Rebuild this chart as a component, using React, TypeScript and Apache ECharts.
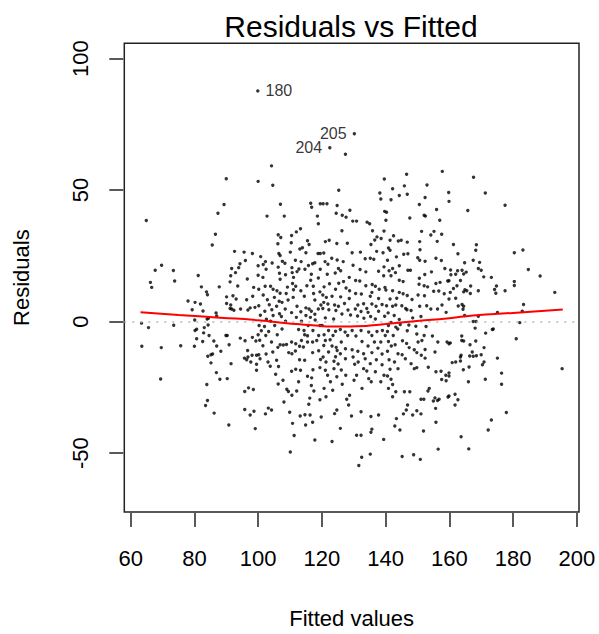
import React, { useEffect, useRef } from "react";
import * as echarts from "echarts";

// Tick labels
const fittedTicks = [60, 80, 100, 120, 140, 160, 180, 200];
const residTicks = [-50, 0, 50, 100];

const pointsA = [
  [90.0,54.3],[89.3,44.5],[87.4,41.2],[64.9,38.4],[86.6,33.2],[85.6,29.1],[92.6,26.7],[95.6,26.4],[98.2,25.9],[96.0,23.2],[69.7,21.4],[67.7,19.5],[73.4,19.4],[94.3,22.0],[93.9,20.5],[91.7,20.2],[92.9,18.6],[91.4,17.4],[81.2,17.5],[73.8,15.4],[66.2,14.9],[66.6,13.0],[91.2,15.1],[96.6,16.2],[93.6,13.5],[87.8,13.2],[82.2,13.2],[98.6,13.0],[83.8,11.3],[84.1,10.2],[90.1,9.4],[92.1,9.8],[93.1,8.6],[96.4,8.3],[98.3,9.6],[78.0,7.8],[80.2,7.3],[81.9,6.7],[90.1,6.9],[91.4,6.3],[91.7,4.8],[91.2,5.0],[92.4,4.3],[79.3,4.5],[82.7,4.0],[94.5,4.8],[96.8,4.4],[97.5,5.2],[99.0,5.4],[86.8,3.3],[87.0,2.1],[84.4,1.3],[84.0,1.0],[80.1,0.6],[63.4,-0.6],[65.6,-2.3],[73.5,-1.4],[84.3,-1.3],[83.1,-2.3],[80.7,-2.9],[80.2,-3.4],[82.9,-4.3],[84.6,-5.3],[89.9,-5.3],[90.3,-5.3],[80.7,-6.5],[94.4,-6.3],[95.9,-7.3],[98.2,-6.0],[99.3,-7.4],[82.6,-7.6],[86.1,-7.4],[90.9,-8.8],[87.0,-9.3],[63.5,-9.4],[69.6,-9.9],[75.7,-9.2],[80.0,-9.4],[96.7,-11.0],[88.3,-11.3],[85.7,-12.3],[85.2,-12.6],[84.2,-13.2],[98.1,-12.8],[96.8,-13.5],[95.7,-13.9],[96.4,-14.5],[99.5,-12.8],[91.5,-16.0],[85.2,-15.7],[97.7,-15.4],[99.5,-16.2],[99.5,-18.5],[86.9,-19.4],[88.0,-21.9],[90.3,-21.7],[69.4,-21.8],[83.9,-23.9],[97.0,-25.2],[98.5,-25.8],[95.8,-26.6],[84.1,-30.0],[83.5,-31.9],[95.8,-33.4],[98.7,-34.1],[86.2,-34.8],[97.5,-35.5],[90.8,-39.3],[99.1,-40.7]
];

const pointsB = [
  [104.2,59.2],[100.0,53.3],[104.6,51.8],[107.0,44.6],[116.5,45.0],[116.8,43.5],[119.5,44.8],[102.8,40.1],[108.2,40.1],[118.6,40.1],[118.9,37.2],[113.3,35.3],[112.0,34.1],[110.5,32.7],[106.3,33.0],[107.1,32.0],[115.5,30.7],[116.0,29.3],[106.2,29.6],[110.4,30.0],[113.9,28.1],[113.1,27.6],[115.0,26.2],[110.1,26.4],[118.8,25.9],[119.5,25.9],[106.5,25.9],[106.9,25.1],[100.8,24.7],[111.7,23.3],[107.6,22.9],[113.5,22.8],[104.4,22.3],[102.3,22.8],[101.6,21.7],[117.8,22.4],[108.4,22.2],[115.8,21.3],[117.1,22.0],[106.3,20.7],[100.0,21.2],[110.6,20.5],[112.8,20.0],[114.7,19.9],[119.5,19.9],[102.5,19.9],[112.2,19.0],[110.7,18.6],[108.6,17.8],[106.7,18.4],[116.7,18.0],[100.0,17.6],[101.5,16.8],[106.9,16.1],[111.1,16.8],[116.5,15.7],[118.9,16.6],[110.8,14.5],[102.2,13.4],[103.9,13.4],[109.2,13.1],[111.8,13.4],[115.3,13.6],[117.3,13.4],[100.2,12.3],[104.7,12.3],[105.9,11.7],[111.1,12.1],[113.4,11.7],[101.6,10.1],[106.9,10.8],[108.8,10.7],[117.4,10.7],[119.4,11.3],[105.1,9.2],[111.0,9.2],[114.5,9.6],[102.9,8.3],[106.6,7.7],[107.5,7.3],[109.4,8.2],[117.8,8.2],[103.5,6.4],[100.2,6.0],[105.8,5.8],[112.2,5.8],[115.0,5.2],[116.0,4.8],[119.7,6.3],[118.9,4.8],[108.5,4.8],[104.3,4.5],[102.1,3.9],[113.4,3.7],[116.7,3.9],[110.5,3.4],[106.7,3.0],[117.8,2.8],[100.7,2.4],[104.7,2.3],[115.0,2.3],[107.3,1.9],[112.0,1.6],[116.4,1.6],[102.6,0.9],[103.9,0.1],[108.6,0.1],[113.6,0.1],[117.9,0.6],[100.3,-1.5],[102.0,-1.9],[105.2,-1.5],[115.7,-1.5],[119.4,-1.5],[101.0,-3.5],[103.3,-3.8],[107.5,-2.8],[112.7,-3.0],[114.4,-3.4],[117.2,-3.4],[100.0,-5.0],[102.4,-5.3],[106.0,-5.0],[114.6,-5.0],[115.5,-5.4],[119.0,-5.3],[100.5,-7.1],[104.2,-7.8],[106.9,-8.8],[107.9,-8.9],[108.9,-8.7],[110.5,-7.8],[111.8,-8.4],[113.6,-7.2],[115.5,-7.8],[117.1,-7.8],[118.4,-7.2],[101.5,-9.2],[106.2,-9.8],[113.0,-9.4],[114.2,-9.7],[100.2,-12.6],[102.5,-12.3],[104.6,-11.6],[109.6,-11.8],[110.6,-12.2],[111.7,-11.2],[117.1,-11.8],[119.0,-11.1],[100.6,-14.1],[103.1,-15.4],[105.8,-14.7],[113.0,-14.5],[114.6,-14.7],[119.6,-14.4],[103.8,-17.0],[106.4,-17.1],[110.5,-18.9],[111.8,-18.1],[113.3,-18.5],[117.2,-18.3],[119.4,-17.5],[105.5,-20.0],[115.5,-20.8],[116.8,-21.4],[107.8,-22.3],[112.7,-22.9],[106.3,-23.7],[109.0,-25.7],[109.5,-26.6],[112.1,-26.4],[116.7,-24.3],[117.5,-26.4],[110.6,-28.0],[116.2,-29.1],[108.1,-30.6],[119.4,-29.7],[115.9,-31.4],[103.2,-32.9],[104.2,-33.6],[102.3,-35.1],[109.9,-34.5],[113.2,-35.9],[114.7,-35.4],[116.3,-35.5],[119.8,-36.3],[110.8,-38.7],[114.9,-39.3],[117.1,-38.3],[111.3,-43.3],[117.8,-45.0],[110.1,-49.6]
];

const pointsC = [
  [127.4,63.6],[139.6,54.2],[125.3,49.9],[138.2,48.9],[138.5,46.6],[121.6,44.8],[120.4,44.8],[124.8,44.1],[139.7,41.9],[124.5,41.2],[126.4,40.4],[127.6,39.7],[128.8,42.3],[129.7,38.2],[130.9,38.2],[134.2,37.8],[135.0,37.2],[126.3,34.5],[139.5,34.4],[135.9,34.5],[137.3,32.2],[138.6,31.6],[136.6,31.0],[135.4,29.3],[121.1,30.4],[122.3,30.9],[124.7,29.7],[128.0,29.8],[132.1,26.4],[120.6,26.1],[129.5,26.2],[137.2,26.7],[139.2,26.2],[133.6,23.9],[135.2,24.1],[136.3,23.7],[123.1,24.1],[124.8,23.4],[126.7,22.8],[121.0,22.8],[121.9,21.8],[129.8,21.4],[132.0,19.8],[133.8,18.9],[125.2,20.2],[125.9,19.3],[124.2,18.5],[137.8,19.1],[139.5,20.8],[128.6,16.8],[121.7,18.0],[130.6,15.6],[131.9,15.4],[139.4,17.4],[126.8,15.2],[125.3,14.6],[122.4,14.4],[135.8,14.1],[133.8,13.6],[136.8,13.4],[138.0,12.3],[139.8,13.0],[120.7,13.2],[124.3,12.3],[127.6,12.8],[128.7,11.7],[130.6,10.7],[132.4,10.5],[135.7,11.1],[120.3,10.1],[121.4,9.2],[123.2,9.6],[125.9,9.4],[128.6,8.8],[135.2,9.6],[137.8,8.8],[120.6,7.3],[121.9,6.7],[124.0,6.3],[125.2,5.8],[127.1,6.9],[131.3,6.3],[133.1,6.8],[134.1,5.0],[135.7,6.7],[137.0,5.8],[138.9,6.5],[120.3,5.0],[122.2,4.5],[124.4,4.2],[128.2,4.4],[130.5,4.8],[132.3,3.8],[134.5,3.5],[137.8,3.9],[126.3,2.9],[129.0,2.5],[131.2,2.1],[135.3,1.9],[139.7,2.0],[121.1,1.4],[123.7,1.0],[133.2,1.3],[136.8,1.0],[120.1,-1.5],[122.1,-3.4],[124.3,-3.7],[125.8,-3.0],[127.3,-4.0],[129.5,-3.4],[132.3,-3.4],[134.7,-4.0],[137.3,-3.8],[139.0,-3.4],[120.7,-5.0],[123.5,-5.3],[128.1,-5.3],[130.7,-5.5],[135.7,-5.3],[139.9,-5.3],[121.1,-7.2],[122.6,-6.9],[126.1,-7.8],[132.6,-7.6],[136.5,-7.8],[138.5,-7.8],[120.6,-9.1],[123.2,-9.3],[124.5,-9.8],[127.4,-10.3],[129.5,-10.7],[134.5,-9.3],[137.6,-10.1],[124.8,-11.0],[122.1,-11.6],[125.8,-12.2],[131.3,-11.3],[133.1,-12.2],[135.7,-11.8],[138.9,-12.3],[120.4,-13.5],[124.3,-13.4],[127.4,-14.1],[129.8,-13.5],[133.6,-14.1],[137.1,-14.5],[121.3,-15.4],[123.8,-15.1],[125.1,-16.1],[130.3,-16.2],[131.4,-15.4],[135.2,-16.0],[138.9,-16.4],[121.1,-18.5],[123.8,-17.9],[126.1,-18.4],[133.1,-17.9],[134.1,-18.8],[136.8,-19.1],[121.8,-20.4],[124.7,-21.0],[127.5,-20.4],[130.9,-20.4],[134.7,-21.7],[139.5,-20.4],[122.7,-22.9],[126.4,-23.8],[130.1,-22.3],[135.5,-22.9],[138.5,-22.9],[120.7,-25.4],[123.4,-26.1],[132.6,-25.4],[128.7,-28.0],[121.3,-28.6],[127.8,-29.5],[128.4,-31.7],[124.7,-33.6],[124.0,-35.0],[129.3,-35.9],[132.3,-34.3],[135.4,-36.1],[137.8,-35.5],[125.8,-40.6],[135.7,-40.9],[135.4,-42.1],[130.9,-43.2],[132.3,-43.2],[139.4,-44.8],[123.2,-45.6],[135.2,-50.4],[132.5,-51.6],[131.6,-54.7]
];

const pointsD = [
  [157.8,57.1],[146.6,56.0],[153.0,51.9],[142.2,50.5],[145.9,51.6],[144.3,47.9],[146.8,48.4],[141.7,46.3],[152.4,47.2],[159.8,49.1],[150.6,44.5],[156.0,42.6],[140.3,41.6],[152.1,40.4],[152.5,40.1],[147.6,39.4],[157.0,38.5],[140.1,38.5],[151.3,34.3],[154.2,32.9],[155.2,34.3],[157.6,33.2],[142.5,32.6],[141.4,30.9],[144.0,30.6],[144.9,30.9],[146.8,30.2],[150.7,30.4],[156.2,30.5],[140.9,28.0],[141.4,27.1],[150.8,27.3],[145.7,25.6],[147.0,25.8],[143.4,24.6],[150.1,24.3],[150.7,23.3],[140.6,23.3],[152.4,22.9],[155.8,24.1],[157.5,23.2],[144.3,21.2],[142.2,20.2],[141.1,19.3],[143.1,18.6],[147.0,19.5],[147.8,19.5],[158.6,20.2],[154.4,18.9],[152.3,17.9],[141.7,17.4],[150.6,16.5],[144.3,15.7],[145.5,15.2],[155.8,14.5],[157.1,14.9],[159.5,15.4],[152.1,13.6],[153.2,13.2],[150.5,14.2],[140.1,12.0],[142.2,11.7],[144.3,11.1],[145.5,10.6],[155.1,11.5],[156.7,11.6],[158.4,10.6],[146.8,9.9],[150.2,10.1],[152.2,9.8],[141.4,8.6],[143.5,8.9],[148.3,8.4],[140.3,6.0],[142.2,5.8],[143.2,6.3],[145.1,6.0],[146.3,5.0],[146.7,4.5],[148.0,4.2],[150.7,5.8],[152.9,6.0],[154.2,4.8],[156.3,4.8],[157.7,6.3],[159.0,3.5],[140.8,3.3],[142.7,2.3],[144.3,0.8],[148.5,1.4],[151.1,1.9],[141.7,-0.3],[140.9,-1.5],[143.2,-2.1],[144.6,-1.1],[147.3,-1.3],[149.5,-1.8],[152.7,-1.9],[140.6,-3.8],[143.8,-2.8],[146.8,-3.5],[149.8,-4.7],[152.1,-5.3],[154.7,-5.5],[142.4,-5.3],[140.9,-7.6],[145.3,-7.3],[146.6,-8.3],[150.2,-7.8],[151.4,-7.2],[156.4,-7.8],[159.3,-7.8],[141.8,-9.3],[143.0,-8.8],[147.4,-9.9],[149.0,-10.7],[152.4,-10.6],[140.6,-11.3],[143.9,-12.2],[145.2,-12.6],[149.8,-11.8],[151.2,-12.8],[152.4,-13.9],[155.5,-11.6],[141.1,-14.5],[142.8,-15.4],[146.2,-14.1],[148.0,-16.0],[149.0,-17.9],[149.8,-17.5],[141.4,-18.1],[143.9,-17.9],[153.4,-17.4],[155.8,-19.1],[157.4,-18.9],[158.9,-20.4],[140.6,-20.7],[141.7,-21.9],[157.6,-22.0],[159.0,-22.5],[142.2,-23.9],[140.9,-25.4],[153.7,-25.4],[143.2,-26.7],[145.9,-26.7],[147.6,-26.7],[153.3,-26.4],[142.2,-28.6],[151.1,-29.5],[152.0,-29.5],[155.5,-29.0],[156.3,-30.0],[156.8,-29.5],[159.6,-28.7],[155.0,-30.2],[146.9,-31.7],[155.7,-33.0],[146.5,-33.6],[149.8,-33.9],[145.6,-35.1],[148.5,-35.5],[151.1,-35.1],[143.4,-36.9],[142.9,-39.7],[144.5,-41.2],[155.8,-38.3],[151.9,-41.6],[156.5,-48.5],[145.2,-51.3],[148.8,-50.6],[150.9,-52.4]
];

const pointsE = [
  [167.6,54.9],[171.3,48.9],[177.5,44.2],[159.9,45.7],[165.8,42.2],[161.3,29.3],[168.5,29.2],[168.3,27.1],[162.7,25.8],[180.4,26.2],[183.1,27.2],[167.5,23.3],[169.5,22.5],[164.8,22.4],[184.8,19.8],[169.1,20.2],[170.0,19.5],[160.4,19.6],[162.6,19.3],[164.0,19.5],[165.3,18.8],[162.0,18.0],[164.5,18.1],[160.5,17.8],[170.8,17.0],[173.2,16.8],[188.5,17.3],[159.9,15.5],[163.5,15.6],[180.4,15.2],[180.4,13.7],[174.8,13.5],[174.2,12.2],[174.6,10.8],[177.5,11.7],[161.3,12.6],[162.4,13.6],[164.9,12.1],[165.5,11.7],[166.7,13.5],[164.5,11.3],[166.6,10.7],[169.1,11.7],[160.3,11.1],[159.9,8.6],[162.0,8.9],[164.0,6.5],[164.5,5.8],[162.8,5.9],[164.3,4.7],[193.1,11.1],[183.3,6.5],[182.9,3.9],[175.1,3.5],[164.8,2.3],[169.1,2.0],[167.5,0.0],[168.4,0.0],[182.1,-0.4],[168.1,-2.5],[173.5,-3.0],[173.8,-2.8],[171.4,-4.4],[163.9,-5.5],[181.0,-6.5],[163.9,-7.2],[164.5,-7.4],[168.3,-7.4],[160.3,-8.1],[159.9,-8.4],[166.5,-8.8],[170.9,-9.9],[167.2,-11.6],[163.7,-12.8],[163.5,-13.5],[166.4,-13.1],[167.5,-13.2],[168.5,-13.0],[170.0,-12.6],[175.1,-13.9],[170.9,-15.4],[170.4,-16.4],[160.9,-15.6],[162.0,-15.4],[163.5,-15.0],[166.2,-17.3],[164.4,-18.3],[195.4,-17.9],[159.9,-19.5],[159.9,-20.7],[176.4,-19.6],[176.4,-23.8],[166.0,-22.9],[171.3,-21.9],[159.9,-28.3],[161.8,-27.6],[162.7,-29.7],[161.8,-31.7],[177.9,-34.6],[173.2,-37.4],[172.2,-41.2],[163.7,-43.8],[166.1,-48.4]
];

// Labelled outliers
const outlierIds = [180, 205, 204];
const outlierFitted = [99.9, 130.2, 122.5];
const outlierResid = [87.7, 71.4, 66.1];
const outlierLabelSide = ["right", "left", "left"];

// Smoothed (lowess) residual curve
const smoothFitted = [63.1, 75, 88, 100, 109, 118, 124.7, 131, 140, 149.8, 160, 167.5, 180, 195.6];
const smoothResid = [3.5, 2.5, 1.5, 0.5, -0.6, -1.5, -1.9, -1.8, -0.9, 0.2, 1.3, 2.3, 3.3, 4.6];

const FONT = "'Liberation Sans', Arial, Helvetica, sans-serif";

export default function App() {
  const ref = useRef<HTMLDivElement>(null);

  useEffect(() => {
    if (!ref.current) return;
    const chart = echarts.init(ref.current, null, { renderer: "svg" });
    const allPoints = [...pointsA, ...pointsB, ...pointsC, ...pointsD, ...pointsE];

    chart.setOption({
      animation: false,
      backgroundColor: "#ffffff",
      textStyle: { fontFamily: FONT },
      title: {
        text: "Residuals vs Fitted",
        left: 346,
        textAlign: "center",
        top: 6,
        textStyle: { fontSize: 30, fontWeight: "normal", color: "#000", fontFamily: FONT },
      },
      grid: {
        left: 124.3,
        right: 20,
        top: 43.3,
        bottom: 119,
        show: true,
        borderColor: "#222",
        borderWidth: 1.5,
        backgroundColor: "transparent",
      },
      xAxis: {
        type: "value",
        min: 58,
        max: 200.7,
        offset: 1,
        axisLine: { show: false, onZero: false },
        axisTick: {
          show: true,
          customValues: fittedTicks,
          length: 14,
          lineStyle: { color: "#222", width: 1.5 },
        },
        axisLabel: {
          customValues: fittedTicks,
          fontSize: 22,
          color: "#000",
          margin: 34,
          fontFamily: FONT,
        },
        splitLine: { show: false },
        name: "Fitted values",
        nameLocation: "middle",
        nameGap: 94,
        nameTextStyle: { fontSize: 22, color: "#000", fontFamily: FONT },
      },
      yAxis: {
        type: "value",
        min: -72.4,
        max: 105.8,
        offset: 1,
        axisLine: { show: false, onZero: false },
        axisTick: {
          show: true,
          customValues: residTicks,
          length: 14,
          lineStyle: { color: "#222", width: 1.5 },
        },
        axisLabel: {
          customValues: residTicks,
          rotate: 90,
          fontSize: 22,
          color: "#000",
          margin: 32,
          fontFamily: FONT,
        },
        splitLine: { show: false },
        name: "Residuals",
        nameLocation: "middle",
        nameRotate: 90,
        nameGap: 91,
        nameTextStyle: { fontSize: 22, color: "#000", fontFamily: FONT },
      },
      series: [
        {
          type: "scatter",
          data: allPoints,
          symbolSize: 3.4,
          itemStyle: { color: "#000" },
          silent: true,
          markLine: {
            silent: true,
            symbol: ["none", "none"],
            label: { show: false },
            lineStyle: { color: "#b8b8b8", type: [2, 6], width: 1.5 },
            data: [{ yAxis: 0 }],
          },
        },
        {
          type: "scatter",
          symbolSize: 3.4,
          itemStyle: { color: "#000" },
          data: outlierIds.map((id, i) => ({
            value: [outlierFitted[i], outlierResid[i], id],
            label: {
              show: true,
              position: outlierLabelSide[i],
              distance: 6,
              formatter: String(id),
              fontSize: 16,
              color: "#000",
              fontFamily: FONT,
            },
          })),
        },
        {
          type: "line",
          data: smoothFitted.map((x, i) => [x, smoothResid[i]]),
          showSymbol: false,
          smooth: 0.6,
          lineStyle: { color: "#ff0000", width: 2 },
          z: 5,
        },
      ],
    });

    return () => chart.dispose();
  }, []);

  return (
    <div
      ref={ref}
      style={{ position: "absolute", left: 0, top: 0, width: 599, height: 634 }}
    />
  );
}
